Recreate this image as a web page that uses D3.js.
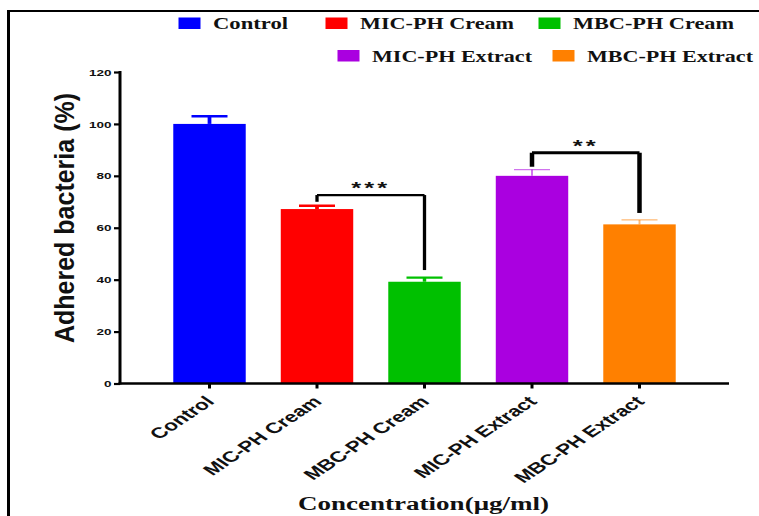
<!DOCTYPE html>
<html>
<head>
<meta charset="utf-8">
<script src="https://cdn.jsdelivr.net/npm/d3@7"></script>
<style>
  html, body { margin: 0; padding: 0; background: #fff; }
  svg { display: block; }
</style>
</head>
<body>
<svg id="chart" width="759" height="516"></svg>
<script>
// ---- data ----
const categories = ["Control", "MIC-PH Cream", "MBC-PH Cream", "MIC-PH Extract", "MBC-PH Extract"];
const values = [100.0, 67.2, 39.2, 80.0, 61.3];
const errors = [3.0, 1.3, 1.6, 2.4, 1.7];
const yTicks = [0, 20, 40, 60, 80, 100, 120];
const seriesColors = ["#0000FF", "#FF0000", "#00C000", "#AA00E0", "#FF8000"];
const legendLabels = ["Control", "MIC-PH Cream", "MBC-PH Cream", "MIC-PH Extract", "MBC-PH Extract"];
const bracketFrom = ["MIC-PH Cream", "MIC-PH Extract"];
const bracketTo = ["MBC-PH Cream", "MBC-PH Extract"];
const bracketLeftStart = [70.0, 83.5];
const bracketLevel = [72.6, 88.9];
const bracketRightEnd = [43.7, 65.7];
const bracketLabels = ["***", "**"];
const yTitle = "Adhered bacteria (%)";
const xTitle = "Concentration(\u03BCg/ml)";

// ---- layout / style ----
const SX = 1.5; // horizontal stretch of the original figure
const svg = d3.select("#chart");

const x = d3.scaleBand()
  .domain(categories)
  .range([155.75, 693.25])
  .paddingInner(0.326)
  .paddingOuter(0.163);
const y = d3.scaleLinear().domain([0, 120]).range([383.5, 72]);

// frame
svg.append("line").attr("x1", 8.5).attr("x2", 759).attr("y1", 11).attr("y2", 11)
  .attr("stroke", "#000").attr("stroke-width", 2.2);
svg.append("line").attr("x1", 8.5).attr("x2", 8.5).attr("y1", 10).attr("y2", 516)
  .attr("stroke", "#000").attr("stroke-width", 3);

// bars
svg.append("g").selectAll("rect").data(categories).join("rect")
  .attr("x", d => x(d))
  .attr("width", x.bandwidth())
  .attr("y", (d, i) => y(values[i]))
  .attr("height", (d, i) => y(0) - y(values[i]))
  .attr("fill", (d, i) => seriesColors[i]);

// error bars
const capW = [2.5, 2.5, 2.3, 1.3, 1.3];
const capOpacity = [1, 1, 1, 0.55, 0.55];
const eg = svg.append("g");
categories.forEach((c, i) => {
  const cx = x(c) + x.bandwidth() / 2;
  eg.append("line").attr("x1", cx).attr("x2", cx)
    .attr("y1", y(values[i])).attr("y2", y(values[i] + errors[i]))
    .attr("stroke", seriesColors[i]).attr("stroke-width", capW[i] * 1.5)
    .attr("stroke-opacity", capOpacity[i]);
  eg.append("line").attr("x1", cx - 18).attr("x2", cx + 18)
    .attr("y1", y(values[i] + errors[i])).attr("y2", y(values[i] + errors[i]))
    .attr("stroke", seriesColors[i]).attr("stroke-width", capW[i])
    .attr("stroke-opacity", capOpacity[i]);
});

// y axis
const yAxis = d3.axisLeft(y).tickValues(yTicks).tickSize(6).tickSizeOuter(0);
const yg = svg.append("g").attr("transform", "translate(120,0)").call(yAxis);
yg.select(".domain").attr("stroke", "#000").attr("stroke-width", 3)
  .attr("d", `M0,${y(120) - 1}V${y(0) + 1}`);
yg.selectAll(".tick line").attr("stroke", "#000").attr("stroke-width", 2.2);
yg.selectAll(".tick text")
  .attr("font-family", "Liberation Sans, Arial, sans-serif")
  .attr("font-weight", "bold")
  .attr("font-size", 9)
  .attr("fill", "#111")
  .attr("x", null).attr("dy", null)
  .attr("dominant-baseline", "central")
  .attr("text-anchor", "end")
  .attr("transform", `translate(-8.5,0) scale(${SX},1)`);

// x axis
const xAxis = d3.axisBottom(x).tickSize(5).tickSizeOuter(0);
const xg = svg.append("g").attr("transform", `translate(0,${y(0)})`).call(xAxis);
xg.select(".domain").attr("stroke", "#000").attr("stroke-width", 2.5)
  .attr("d", "M118.5,0H729");
xg.selectAll(".tick line").attr("stroke", "#000").attr("stroke-width", 3);
xg.selectAll(".tick text")
  .attr("font-family", "Liberation Sans, Arial, sans-serif")
  .attr("font-weight", "bold")
  .attr("font-size", 15)
  .attr("fill", "#111")
  .attr("y", null).attr("dy", null)
  .attr("text-anchor", "end")
  .attr("transform", `translate(6,19) scale(${SX},1) rotate(-45)`);

// axis titles
svg.append("text")
  .attr("transform", `translate(64,218) scale(${SX},1) rotate(-90)`)
  .attr("text-anchor", "middle")
  .attr("dominant-baseline", "central")
  .attr("font-family", "Liberation Sans, Arial, sans-serif")
  .attr("font-weight", "bold")
  .attr("font-size", 19)
  .attr("textLength", 250)
  .attr("lengthAdjust", "spacingAndGlyphs")
  .attr("fill", "#111")
  .text(yTitle);

svg.append("text")
  .attr("x", 298).attr("y", 509.5)
  .attr("font-family", "Liberation Serif, Times New Roman, serif")
  .attr("font-weight", "bold")
  .attr("font-size", 18)
  .attr("textLength", 251)
  .attr("lengthAdjust", "spacingAndGlyphs")
  .attr("fill", "#111")
  .text(xTitle);

// significance brackets
const bw = [2.2, 3];
bracketFrom.forEach((f, i) => {
  const x1 = x(f) + x.bandwidth() / 2;
  const x2 = x(bracketTo[i]) + x.bandwidth() / 2;
  const yl = y(bracketLevel[i]);
  const g = svg.append("g");
  g.append("path")
    .attr("d", `M${x1},${y(bracketLeftStart[i])}V${yl}`)
    .attr("fill", "none").attr("stroke", "#000").attr("stroke-width", bw[i] * 1.5);
  g.append("path")
    .attr("d", `M${x1},${yl}H${x2}`)
    .attr("fill", "none").attr("stroke", "#000").attr("stroke-width", bw[i]);
  g.append("path")
    .attr("d", `M${x2},${yl}V${y(bracketRightEnd[i])}`)
    .attr("fill", "none").attr("stroke", "#000").attr("stroke-width", bw[i] * 1.5);
  g.append("text")
    .attr("transform", `translate(${(x1 + x2) / 2},${yl - 1}) scale(${SX},1)`)
    .attr("text-anchor", "middle")
    .attr("font-family", "Liberation Sans, Arial, sans-serif")
    .attr("font-weight", "bold")
    .attr("font-size", 17)
    .attr("letter-spacing", 2)
    .attr("fill", "#111")
    .text(bracketLabels[i]);
});

// legend
const legendPos = [[178.5, 17.5], [325.5, 17.5], [538.5, 17.5], [337.5, 50], [552.5, 50]];
const legendTextW = [75, 154, 161, 160, 166];
const lg = svg.append("g");
legendLabels.forEach((lab, i) => {
  const [lx, ly] = legendPos[i];
  lg.append("rect").attr("x", lx).attr("y", ly).attr("width", 22).attr("height", 11.5)
    .attr("fill", seriesColors[i]);
  lg.append("text")
    .attr("x", lx + 34.5).attr("y", ly + 11.5)
    .attr("font-family", "Liberation Serif, Times New Roman, serif")
    .attr("font-weight", "bold")
    .attr("font-size", 16.5)
    .attr("textLength", legendTextW[i])
    .attr("lengthAdjust", "spacingAndGlyphs")
    .attr("fill", "#111")
    .text(lab);
});
</script>
</body>
</html>
